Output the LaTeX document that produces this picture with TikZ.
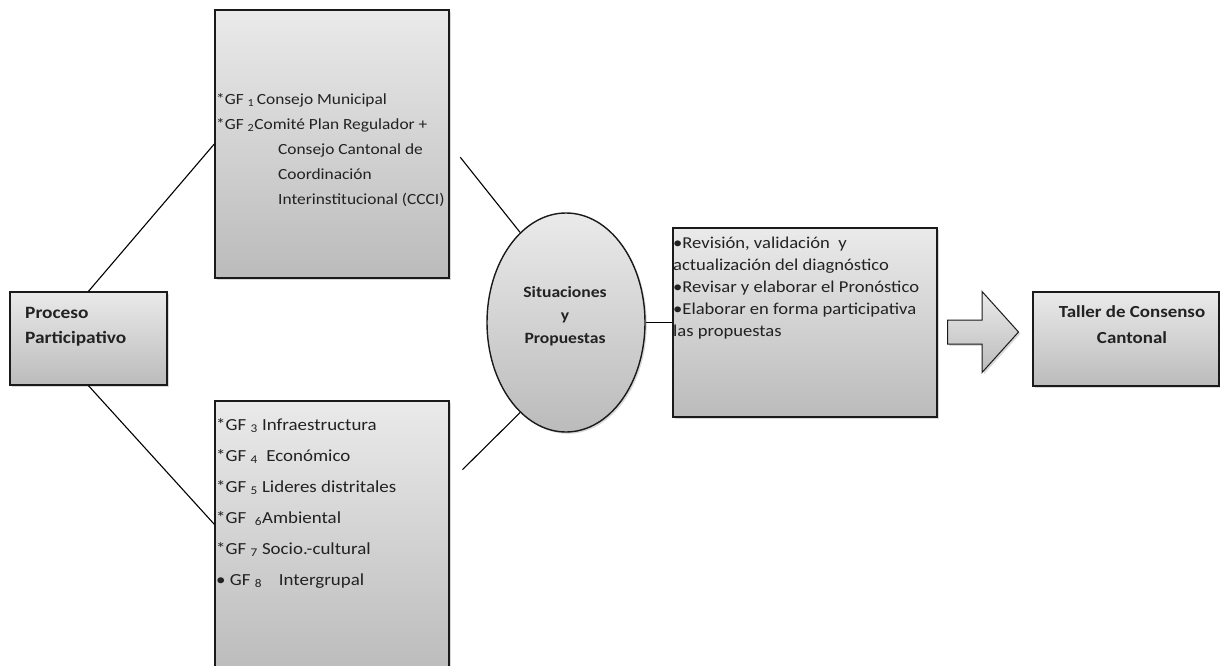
\documentclass[tikz,border=0pt]{standalone}
\usepackage{fontspec}
\setmainfont{Carlito}[FakeStretch=1.12]
\usetikzlibrary{shapes.geometric,shapes.arrows,shadows,calc}
\definecolor{BoxTop}{HTML}{EAEAEA}
\definecolor{BoxBottom}{HTML}{BBBBBB}
\definecolor{BoxEdge}{HTML}{1A1A1A}
\definecolor{BoxText}{HTML}{222222}
\tikzset{
  gfbox/.style={draw=BoxEdge, line width=1.4pt, top color=BoxTop, bottom color=BoxBottom,
    drop shadow={shadow xshift=1.8pt, shadow yshift=-1.8pt, opacity=0.3}, inner sep=0pt},
  link/.style={draw=black, line width=1.1pt},
  boxtext/.style={anchor=base west, align=left, inner sep=0pt, text=BoxText},
  headtext/.style={anchor=base, align=center, inner sep=0pt, text=BoxText, font=\bfseries\fontsize{16.9pt}{26pt}\selectfont},
}
\begin{document}
\begin{tikzpicture}[x=1pt,y=-1pt]
  \useasboundingbox (0,0) rectangle (1220,666);
  % cajas
  \node[gfbox, minimum width=157pt, minimum height=93pt] (proc) at (88.5,338.5) {};
  \node[gfbox, minimum width=234pt, minimum height=268pt] (gfa) at (332,144) {};
  \node[gfbox, minimum width=234pt, minimum height=275pt] (gfb) at (332,538.5) {};
  \node[gfbox, ellipse, minimum width=158pt, minimum height=219pt] (sit) at (566,322.5) {};
  \node[gfbox, minimum width=264pt, minimum height=189pt] (tareas) at (805,322.5) {};
  \node[gfbox, minimum width=186pt, minimum height=94pt] (taller) at (1126,339) {};
  \node[gfbox, single arrow, anchor=tail, minimum height=71pt, minimum width=80pt,
    inner xsep=0pt, inner ysep=11.5pt, single arrow head extend=28.5pt,
    single arrow tip angle=96, line width=1pt] (flecha) at (947,332) {};
  % conectores
  \coordinate (gfbin) at ($(gfb.north west)+(0,124)$);
  \coordinate (gfbout) at ($(gfb.north east)+(0,82)$);
  \draw[link] (proc.north) -- (gfa.west);
  \draw[link] (proc.south) -- (gfbin);
  \draw[link, shorten <=17pt] (gfa.east) -- (sit.117);
  \draw[link, shorten <=18pt] (gfbout) -- (sit.243);
  \draw[link] (sit.east) -- (tareas.west);
  % textos (ancla en la base de la ultima linea)
  \node[headtext, anchor=base west, align=left, font=\bfseries\fontsize{17.3pt}{25pt}\selectfont] (proctext) at (25,343) {Proceso\\Participativo};
  \node[boxtext, font=\fontsize{15.5pt}{25pt}\selectfont] (gfatext) at (216,204)
    {*GF \textsubscript{1}\,Consejo Municipal\\
     *GF \textsubscript{2}Comité Plan Regulador +\\
     \hspace*{62pt}Consejo Cantonal de\\
     \hspace*{62pt}Coordinación\\
     \hspace*{62pt}Interinstitucional (CCCI)};
  \node[boxtext, font=\fontsize{16.9pt}{31pt}\selectfont] (gfbtext) at (216,585)
    {*GF \textsubscript{3} Infraestructura\\
     *GF \textsubscript{4}\ \ Económico\\
     *GF \textsubscript{5} Lideres distritales\\
     *GF \ \textsubscript{6}Ambiental\\
     *GF \textsubscript{7} Socio.-cultural\\
     • GF \textsubscript{8}\quad Intergrupal};
  \node[headtext, font=\bfseries\fontsize{15.7pt}{23pt}\selectfont] (sittext) at (565,343)
    {Situaciones\\y\\Propuestas};
  \node[boxtext, font=\fontsize{16.6pt}{22pt}\selectfont] (tareastext) at (673,336)
    {•Revisión, validación\ \ y\\
     actualización del diagnóstico\\
     •Revisar y elaborar el Pronóstico\\
     •Elaborar en forma participativa\\
     las propuestas};
  \node[headtext] (tallertext) at (1132,343) {Taller de Consenso\\Cantonal};
\end{tikzpicture}
\end{document}
